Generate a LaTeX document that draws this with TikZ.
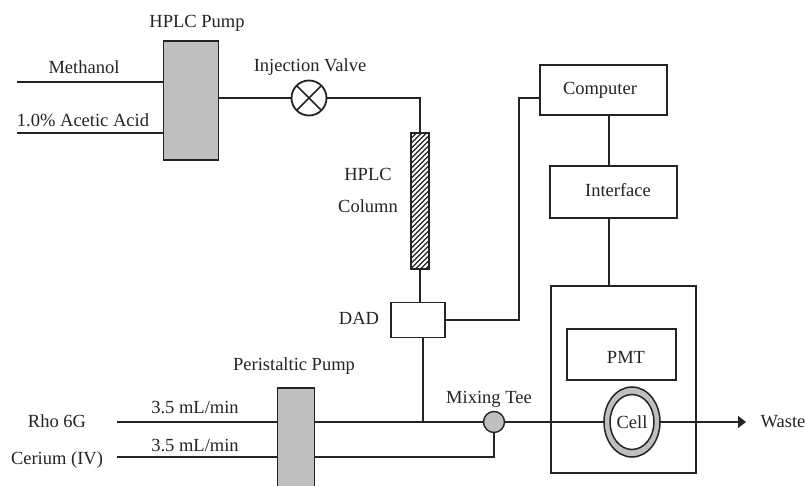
\documentclass[tikz,border=0pt]{standalone}
\usepackage{fontspec}
\setmainfont{Liberation Serif}
\usetikzlibrary{arrows.meta,calc,shapes.geometric}
\definecolor{ink}{gray}{0.14}
\definecolor{fillgray}{gray}{0.75}
\tikzset{
  x=1pt,y=-1pt,
  every node/.style={inner sep=0pt,outer sep=0pt},
  txt/.style={text=ink,font=\fontsize{18.5}{22}\selectfont,anchor=center},
  boxw/.style={draw=ink,line width=1.5pt,fill=white,rectangle},
  boxg/.style={draw=ink,line width=1.7pt,fill=fillgray,rectangle},
  conn/.style={draw=ink,line width=1.5pt},
  valve/.style={draw=ink,line width=1.8pt,fill=white,circle,minimum size=35pt,
    path picture={\draw[ink,line width=1.5pt]
      (path picture bounding box.north west)--(path picture bounding box.south east)
      (path picture bounding box.north east)--(path picture bounding box.south west);}},
  hatched/.style={draw=ink,line width=2pt,fill=white,rectangle,
    path picture={\foreach \k in {-20,-15,...,160}{
      \draw[ink,line width=1.1pt] ($(path picture bounding box.north west)+(0,\k)$)--++(30,-30);}}},
}
\begin{document}
\begin{tikzpicture}
\useasboundingbox[fill=white] (0,0) rectangle (807,486);
% boxes
\node[boxg,minimum width=55pt,minimum height=119pt] (hplcpump) at (191,100.5) {};
\node[valve] (valve) at (309,98) {};
\node[hatched,minimum width=18pt,minimum height=136pt] (column) at (420,201.5) {};
\node[boxw,minimum width=54pt,minimum height=35pt] (dad) at (418,320) {};
\node[boxw,minimum width=127pt,minimum height=50pt] (computer) at (603.5,90) {};
\node[boxw,minimum width=127pt,minimum height=52pt] (interface) at (613.5,192) {};
\node[boxw,minimum width=145pt,minimum height=187pt] (detector) at (623.5,379.5) {};
\node[boxw,minimum width=109pt,minimum height=51pt] (pmt) at (621.5,354.5) {};
\node[boxg,minimum width=37pt,minimum height=112pt] (peri) at (296,444) {};
\node[draw=ink,line width=1.4pt,fill=fillgray,circle,minimum size=21pt] (tee) at (494,422) {};
% free ends and bends
\coordinate (m0) at (17,82);
\coordinate (a0) at (17,133);
\coordinate (r0) at (117,422);
\coordinate (c0) at (117,457);
\coordinate (pumpout) at (hplcpump.east |- valve);
\coordinate (bend1) at (column.north |- valve);
\coordinate (bend2) at (519,320);
\coordinate (bend3) at (519,98);
\coordinate (compin) at (computer.west |- bend3);
\coordinate (merge) at (423,422);
\coordinate (bend4) at (tee.south |- c0);
\coordinate (wasteend) at (746,422);
\coordinate (compdown) at (609,115);
\coordinate (ifup) at (609,166);
\coordinate (ifdown) at (609,218);
\coordinate (detup) at (609,286);
% lines
\draw[conn] (m0) -- (m0 -| hplcpump.west);
\draw[conn] (a0) -- (a0 -| hplcpump.west);
\draw[conn] (pumpout) -- (valve.west);
\draw[conn] (valve.east) -- (bend1) -- (column.north);
\draw[conn] (column.south) -- (column.south |- dad.north);
\draw[conn] (dad.east) -- (bend2) -- (bend3) -- (compin);
\draw[conn] (compdown) -- (ifup);
\draw[conn] (ifdown) -- (detup);
\draw[conn] (merge |- dad.south) -- (merge);
\draw[conn] (r0) -- (r0 -| peri.west);
\draw[conn] (c0) -- (c0 -| peri.west);
\draw[conn] (r0 -| peri.east) -- (tee.west);
\draw[conn] (c0 -| peri.east) -- (bend4) -- (tee.south);
% cell
\node[draw=ink,line width=1.5pt,fill=fillgray,ellipse,minimum width=56pt,minimum height=70pt] (cell) at (632,422) {};
\node[draw=ink,line width=1.5pt,fill=white,ellipse,minimum width=44pt,minimum height=55pt] (cellin) at (632,422) {};
\draw[conn] (tee.east) -- (cell.west);
\draw[conn,-{Triangle[length=8pt,width=12pt]}] (cell.east) -- (wasteend);
% labels
\node[txt] (t1) at (197,23) {HPLC Pump};
\node[txt] (t2) at (84,67) {Methanol};
\node[txt] (t3) at (83,120) {1.0\% Acetic Acid};
\node[txt] (t4) at (310,67.5) {Injection Valve};
\node[txt] (t5) at (368,174) {HPLC};
\node[txt] (t6) at (368,206) {Column};
\node[txt] (t7) at (359,318.5) {DAD};
\node[txt] (t8) at (294,366) {Peristaltic Pump};
\node[txt] (t9) at (195,408) {3.5 mL/min};
\node[txt] (t10) at (195,445.5) {3.5 mL/min};
\node[txt] (t11) at (57,421) {Rho 6G};
\node[txt] (t12) at (57,460) {Cerium (IV)};
\node[txt] (t13) at (489,399) {Mixing Tee};
\node[txt] (t14) at (632,422) {Cell};
\node[txt] (t15) at (783,421.5) {Waste};
\node[txt] (t16) at (600,90) {Computer};
\node[txt] (t17) at (618,190) {Interface};
\node[txt] (t18) at (626,357.5) {PMT};
\end{tikzpicture}
\end{document}
